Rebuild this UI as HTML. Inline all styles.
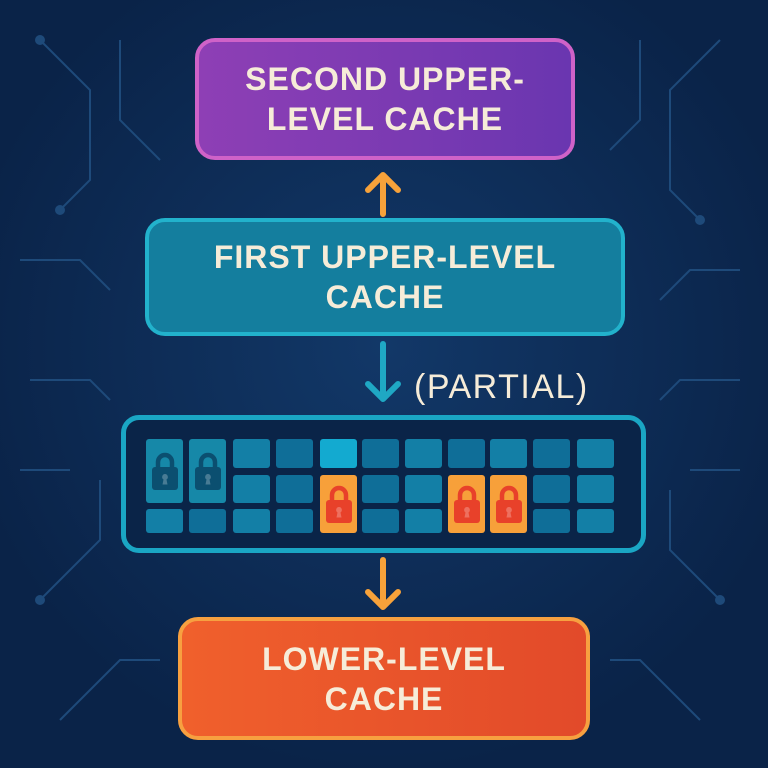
<!DOCTYPE html>
<html><head><style>
body{margin:0;width:768px;height:768px;overflow:hidden;background:radial-gradient(circle at 50% 45%,#123868,#0a2348 75%);font-family:"Liberation Sans",sans-serif}
.box{position:absolute;box-sizing:border-box;display:flex;align-items:center;justify-content:center;text-align:center;color:#f6ecd8;font-weight:bold;font-size:32px;line-height:40px;letter-spacing:1px}
.c{position:absolute;border-radius:3px}
</style></head><body>
<svg width="768" height="768" style="position:absolute;left:0;top:0" fill="none" stroke="#1e4a7a" stroke-width="2">
<path d="M40 40 L90 90 L90 180 L60 210"/><circle cx="40" cy="40" r="4" fill="#1e4a7a"/>
<path d="M120 40 L120 120 L160 160"/><path d="M20 260 L80 260 L110 290"/>
<path d="M30 380 L90 380 L110 400"/><path d="M40 600 L100 540 L100 480"/>
<path d="M60 720 L120 660 L160 660"/><path d="M20 470 L70 470"/>
<path d="M720 40 L670 90 L670 190 L700 220"/><path d="M640 40 L640 120 L610 150"/>
<path d="M740 270 L690 270 L660 300"/><path d="M740 380 L680 380 L660 400"/>
<path d="M720 600 L670 550 L670 490"/><path d="M700 720 L640 660 L610 660"/>
<path d="M740 470 L690 470"/>
<circle cx="60" cy="210" r="4" fill="#1e4a7a"/><circle cx="700" cy="220" r="4" fill="#1e4a7a"/>
<circle cx="40" cy="600" r="4" fill="#1e4a7a"/><circle cx="720" cy="600" r="4" fill="#1e4a7a"/>
<g stroke-linecap="round" stroke-linejoin="round" stroke-width="6">
<path d="M383 214 V176 M368 190 L383 175 L398 190" stroke="#f7a23a"/>
<path d="M383 344 V398 M368 384 L383 399 L398 384" stroke="#1fa8c4"/>
<path d="M383 560 V606 M368 592 L383 607 L398 592" stroke="#f7a23a"/>
</g>
</svg>
<div class="box" style="left:195px;top:38px;width:380px;height:122px;border-radius:20px;border:4px solid #cf62c8;background:linear-gradient(90deg,#8e3fb5,#6a36b0)">SECOND UPPER-<br>LEVEL CACHE</div>
<div class="box" style="left:145px;top:218px;width:480px;height:118px;border-radius:20px;border:4px solid #22b2cc;background:#147e9e">FIRST UPPER-LEVEL<br>CACHE</div>
<div style="position:absolute;left:414px;top:368px;color:#f6ecd8;font-size:34px;letter-spacing:1.5px">(PARTIAL)</div>
<div style="position:absolute;left:121px;top:415px;width:525px;height:138px;box-sizing:border-box;border:5px solid #1aa6c4;border-radius:18px;background:#0a2448"></div>
<div id="g"></div>
<div class="box" style="left:178px;top:617px;width:412px;height:123px;border-radius:20px;border:4px solid #f7a040;background:linear-gradient(90deg,#f0602c,#e24a2a)">LOWER-LEVEL<br>CACHE</div>
<script>
var xs=[146,189,233,276,320,362,405,448,490,533,577],ys=[[439,468],[475,503],[509,533]],g=document.getElementById('g'),h='';
function lock(c){return '<svg width="28" height="40" viewBox="0 0 28 40" style="position:absolute;left:50%;top:50%;margin:-20px 0 0 -14px"><path d="M7 18V11a7 7 0 0 1 14 0v7" stroke="'+c+'" stroke-width="4.5" fill="none"/><rect x="1" y="16" width="26" height="23" rx="3" fill="'+c+'"/><path d="M14 23a3 3 0 0 1 1.5 5.5l1 5h-5l1-5A3 3 0 0 1 14 23z" fill="rgba(255,255,255,0.25)"/></svg>';}
for(var i=0;i<11;i++){for(var r=0;r<3;r++){var x=xs[i],y=ys[r][0],hh=ys[r][1]-y,bg=(i%2?'#0f6e98':'#137fa6'),inner='';
if(i<2){if(r==1)continue;if(r==0){hh=503-439;bg='#1688a8';inner=lock('#0b4f70');}}
if(i==4||i==7||i==8){if(r==2)continue;if(r==1){hh=533-475;bg='#f7a03a';inner=lock('#e8412a');}}
if(i==4&&r==0)bg='#13aad0';
h+='<div class="c" style="left:'+x+'px;top:'+y+'px;width:37px;height:'+hh+'px;background:'+bg+'">'+inner+'</div>';}}
g.innerHTML=h;
</script>
</body></html>
